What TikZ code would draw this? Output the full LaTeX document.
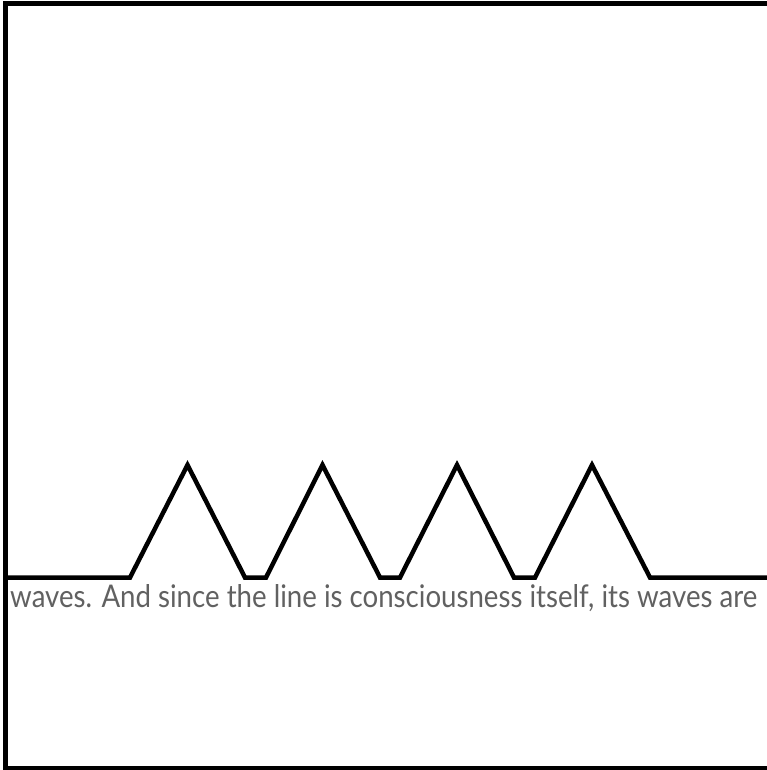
\documentclass[tikz,border=0pt]{standalone}
\usepackage{fontspec}
\setmainfont{Lato}
\usepackage{graphicx}
\begin{document}
\begin{tikzpicture}[x=1bp,y=-1bp,
  frame/.style={line width=4.8bp,draw=black},
  wave/.style={line width=4.5bp,draw=black,line join=miter},
  caption/.style={anchor=base west,inner sep=0pt,text=black!62}]
\useasboundingbox (0,0) rectangle (767,770);
\fill[white] (0,0) rectangle (767,770);
\draw[frame] (780,3.8) -- (5.5,3.8) -- (5.5,768) -- (780,768);
\draw[wave] (5.5,577.5) -- (130,577.5)
  -- (187.5,465) -- (245,577.5) -- (266,577.5)
  -- (322.5,465) -- (380,577.5) -- (400,577.5)
  -- (457,465) -- (514,577.5) -- (535,577.5)
  -- (592,465) -- (650,577.5) -- (780,577.5);
\node[caption] (txt) at (10,607.5) {\resizebox{747bp}{23bp}{waves. And since the line is consciousness itself, its waves are}};
\end{tikzpicture}
\end{document}
